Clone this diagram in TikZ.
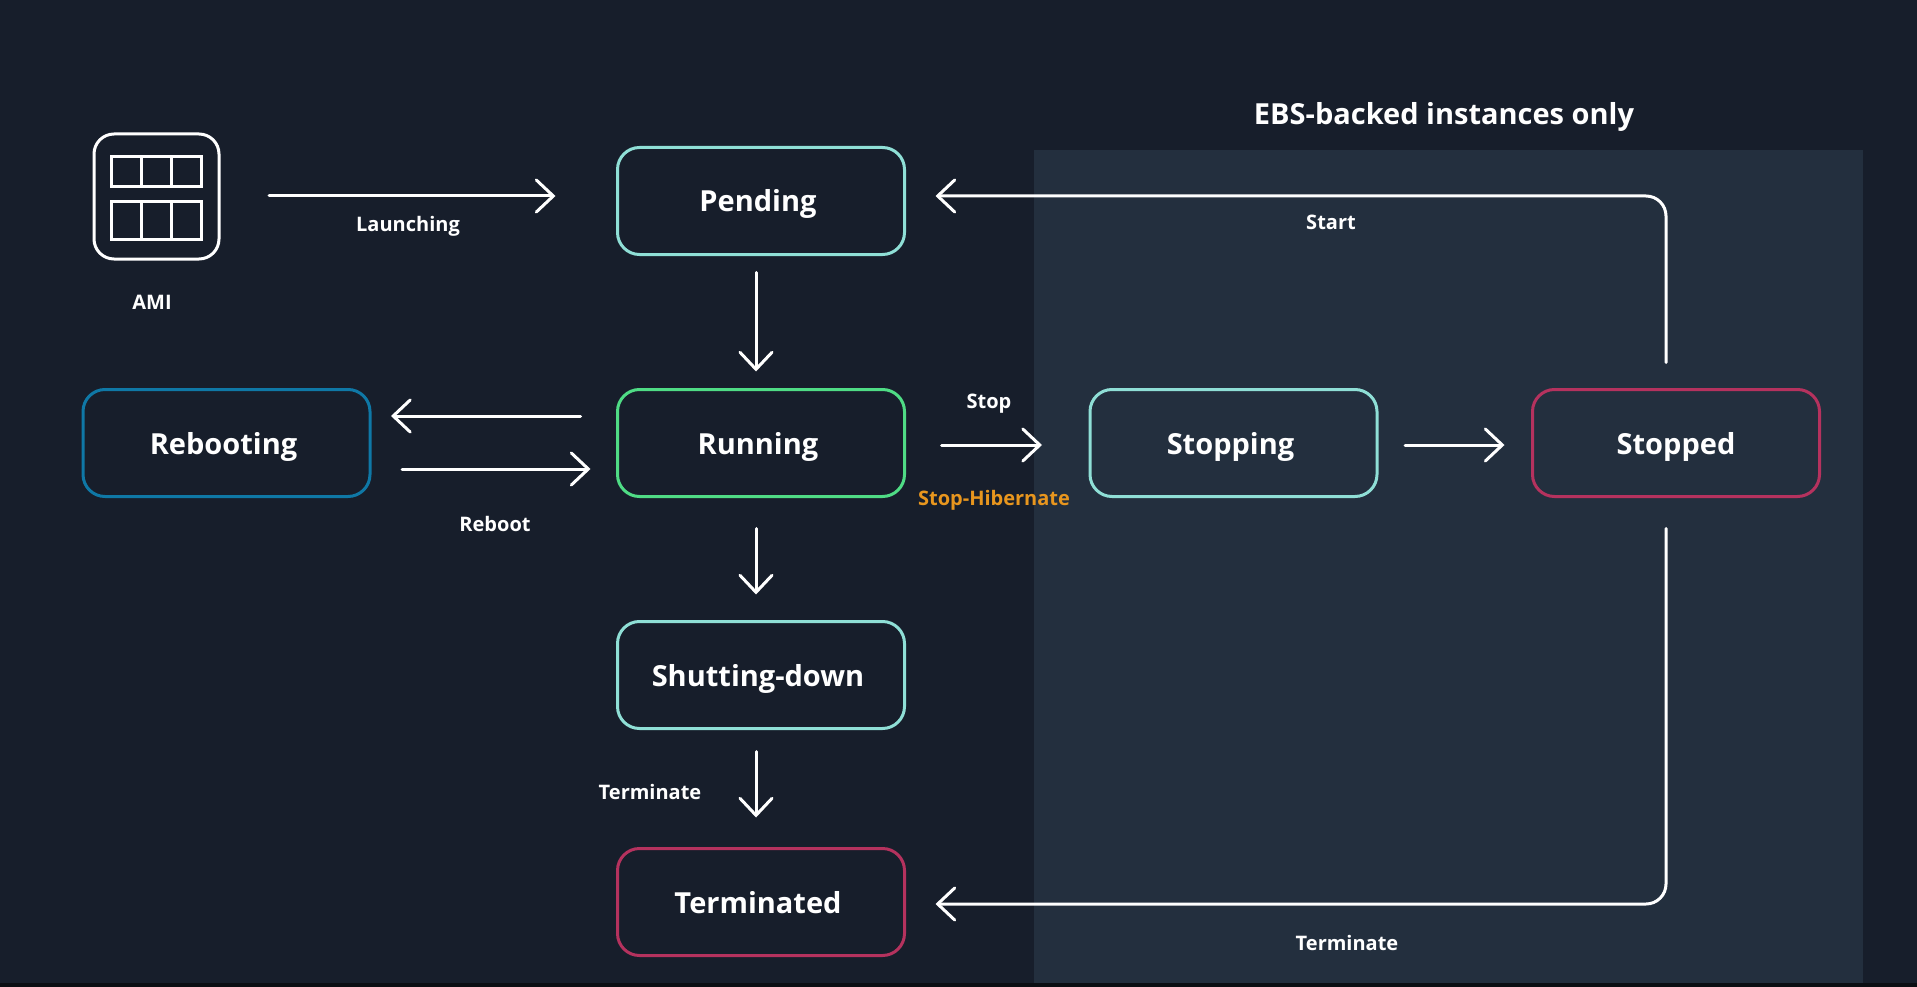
\documentclass[tikz,border=0pt]{standalone}
\usepackage{fontspec}
\setmainfont{Open Sans}
\usetikzlibrary{arrows.meta}
\definecolor{bgc}{HTML}{171E2B}
\definecolor{panelc}{HTML}{232F3E}
\definecolor{stripc}{HTML}{0B0E13}
\definecolor{tealc}{HTML}{8FDFD6}
\definecolor{greenc}{HTML}{4FDC85}
\definecolor{bluec}{HTML}{0F78A6}
\definecolor{redc}{HTML}{B5325E}
\definecolor{orangec}{HTML}{E8961E}
\newcommand{\lefted}[1]{\hspace*{-3pt}#1\hspace*{3pt}}
\tikzset{
  x=1pt,y=-1pt,
  statebox/.style={draw=#1,line width=3pt,rounded corners=22pt,minimum width=287pt,minimum height=107pt,
    inner sep=0pt,outer sep=0pt,text=white,font=\fontsize{29}{34}\selectfont\bfseries,text depth=0pt,text height=22pt},
  lab/.style={text=white,inner sep=0pt,font=\fontsize{20}{24}\selectfont\bfseries},
  arr/.style={draw=white,line width=3pt,line cap=round,-{Straight Barb[length=17pt,width=32pt,line cap=round]}},
  grid/.style={draw=white,line width=3pt}
}
\begin{document}
\begin{tikzpicture}
\useasboundingbox (0,0) rectangle (1917,987);
\fill[bgc] (0,0) rectangle (1917,987);
\fill[panelc] (1034,150) rectangle (1863,983);
\fill[stripc] (0,983) rectangle (1917,987);
% states
\node[statebox=tealc] (pend) at (761,201) {\lefted{Pending}};
\node[statebox=greenc] (run) at (761,443) {\lefted{Running}};
\node[statebox=bluec] (reb) at (226.5,443) {\lefted{Rebooting}};
\node[statebox=tealc] (shut) at (761,675) {\lefted{Shutting-down}};
\node[statebox=redc] (term) at (761,902) {\lefted{Terminated}};
\node[statebox=tealc] (stopg) at (1233.5,443) {\lefted{Stopping}};
\node[statebox=redc] (stopd) at (1676,443) {Stopped};
% AMI icon
\node[draw=white,line width=3pt,rounded corners=20pt,minimum width=125pt,minimum height=125pt,inner sep=0pt,outer sep=0pt] (ami) at (156.5,196.5) {};
\draw[grid] (111,157) rectangle (201,187) (141,157) -- (141,187) (171,157) -- (171,187);
\draw[grid] (111,202) rectangle (201,240) (141,202) -- (141,240) (171,202) -- (171,240);
% labels
\node[lab] at (152,302.5) {AMI};
\node[lab] at (408,226) {Launching};
\node[lab] at (989,404) {Stop};
\node[lab,text=orangec] at (994,500) {Stop-Hibernate};
\node[lab] at (495,524) {Reboot};
\node[lab] at (650,792) {Terminate};
\node[lab] at (1331,222) {Start};
\node[lab] at (1347,943) {Terminate};
\node[text=white,inner sep=0pt,font=\fontsize{29}{34}\selectfont\bfseries] at (1444,117) {EBS-backed instances only};
% connectors
\draw[arr,shorten <=50pt,shorten >=62pt] (ami.east |- 0,196) -- (pend.west |- 0,196);
\draw[arr,shorten <=18pt,shorten >=18pt] ([xshift=-5pt]pend.south) -- ([xshift=-5pt]run.north);
\draw[arr,shorten <=32pt,shorten >=27pt] ([xshift=-5pt]run.south) -- ([xshift=-5pt]shut.north);
\draw[arr,shorten <=23pt,shorten >=31pt] ([xshift=-5pt]shut.south) -- ([xshift=-5pt]term.north);
\draw[arr,shorten <=37pt,shorten >=21pt] ([yshift=27pt]run.west) -- ([yshift=27pt]reb.east);
\draw[arr,shorten <=32pt,shorten >=27pt] ([yshift=-26pt]reb.east) -- ([yshift=-26pt]run.west);
\draw[arr,shorten <=37pt,shorten >=48pt] ([yshift=-2pt]run.east) -- ([yshift=-2pt]stopg.west);
\draw[arr,shorten <=28pt,shorten >=28pt] ([yshift=-2pt]stopg.east) -- ([yshift=-2pt]stopd.west);
\draw[arr,rounded corners=20pt,shorten <=27pt,shorten >=31pt] ([xshift=-10pt]stopd.north) |- ([yshift=5pt]pend.east);
\draw[arr,rounded corners=20pt,shorten <=32pt,shorten >=31pt] ([xshift=-10pt]stopd.south) |- ([yshift=-2pt]term.east);
\end{tikzpicture}
\end{document}
